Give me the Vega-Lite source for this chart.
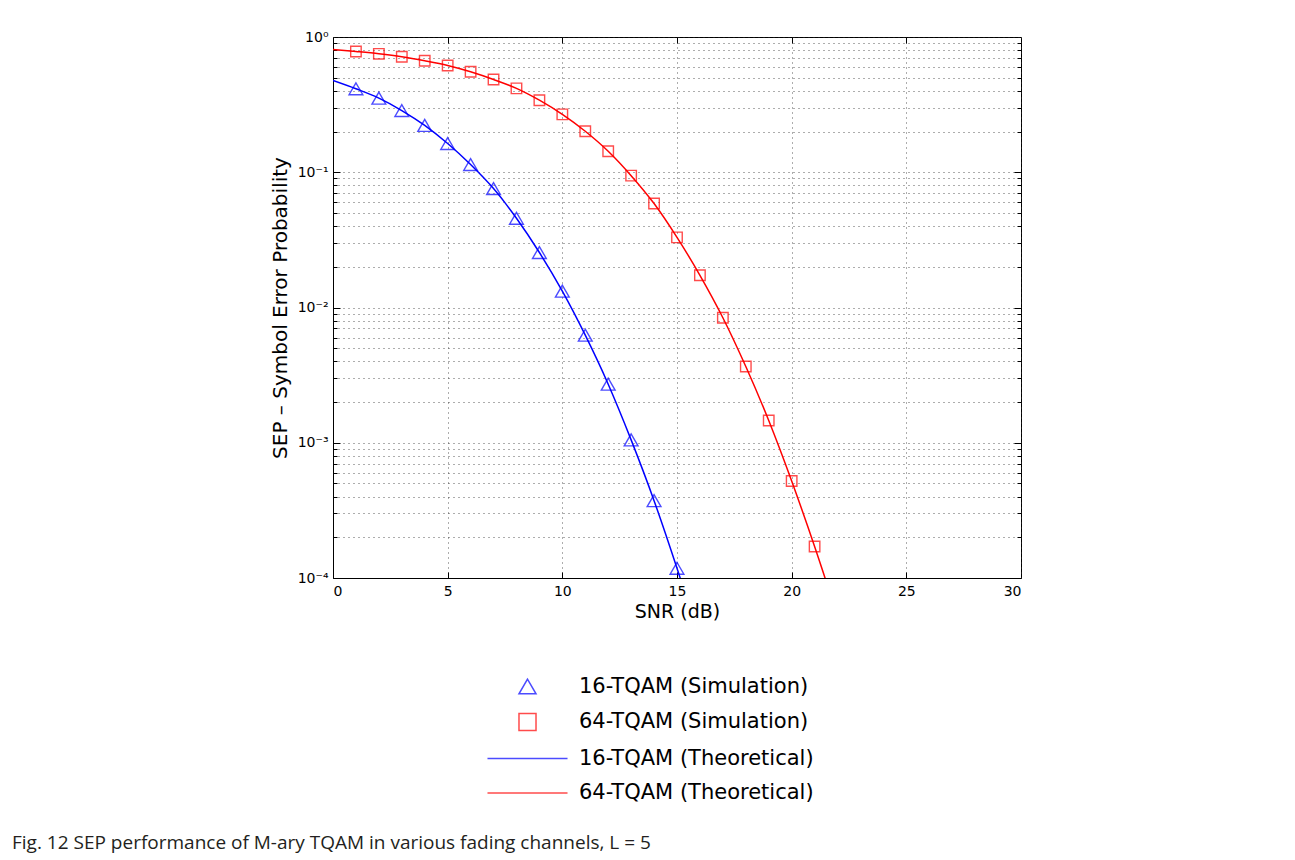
{
  "$schema": "https://vega.github.io/schema/vega-lite/v6.json",
  "width": 688,
  "height": 541,
  "autosize": "none",
  "padding": {"left": 333, "top": 37, "right": 274, "bottom": 282},
  "background": "white",
  "title": {
    "text": "Fig. 12 SEP performance of M-ary TQAM in various fading channels, L = 5",
    "orient": "bottom",
    "anchor": "start",
    "frame": "group",
    "dx": -321,
    "dy": 27,
    "font": "Open Sans",
    "fontSize": 19,
    "fontWeight": "normal",
    "color": "#231f20"
  },
  "datasets": {
    "sim": [
      {"snr": 1, "sep": 0.414, "series": "16-TQAM (Simulation)"},
      {"snr": 2, "sep": 0.353, "series": "16-TQAM (Simulation)"},
      {"snr": 3, "sep": 0.286, "series": "16-TQAM (Simulation)"},
      {"snr": 4, "sep": 0.222, "series": "16-TQAM (Simulation)"},
      {"snr": 5, "sep": 0.163, "series": "16-TQAM (Simulation)"},
      {"snr": 6, "sep": 0.114, "series": "16-TQAM (Simulation)"},
      {"snr": 7, "sep": 0.0757, "series": "16-TQAM (Simulation)"},
      {"snr": 8, "sep": 0.0457, "series": "16-TQAM (Simulation)"},
      {"snr": 9, "sep": 0.0255, "series": "16-TQAM (Simulation)"},
      {"snr": 10, "sep": 0.0132, "series": "16-TQAM (Simulation)"},
      {"snr": 11, "sep": 0.00624, "series": "16-TQAM (Simulation)"},
      {"snr": 12, "sep": 0.00271, "series": "16-TQAM (Simulation)"},
      {"snr": 13, "sep": 0.00105, "series": "16-TQAM (Simulation)"},
      {"snr": 14, "sep": 0.000373, "series": "16-TQAM (Simulation)"},
      {"snr": 15, "sep": 0.000118, "series": "16-TQAM (Simulation)"},
      {"snr": 1, "sep": 0.781, "series": "64-TQAM (Simulation)"},
      {"snr": 2, "sep": 0.751, "series": "64-TQAM (Simulation)"},
      {"snr": 3, "sep": 0.714, "series": "64-TQAM (Simulation)"},
      {"snr": 4, "sep": 0.667, "series": "64-TQAM (Simulation)"},
      {"snr": 5, "sep": 0.616, "series": "64-TQAM (Simulation)"},
      {"snr": 6, "sep": 0.553, "series": "64-TQAM (Simulation)"},
      {"snr": 7, "sep": 0.485, "series": "64-TQAM (Simulation)"},
      {"snr": 8, "sep": 0.417, "series": "64-TQAM (Simulation)"},
      {"snr": 9, "sep": 0.341, "series": "64-TQAM (Simulation)"},
      {"snr": 10, "sep": 0.268, "series": "64-TQAM (Simulation)"},
      {"snr": 11, "sep": 0.201, "series": "64-TQAM (Simulation)"},
      {"snr": 12, "sep": 0.143, "series": "64-TQAM (Simulation)"},
      {"snr": 13, "sep": 0.0944, "series": "64-TQAM (Simulation)"},
      {"snr": 14, "sep": 0.0587, "series": "64-TQAM (Simulation)"},
      {"snr": 15, "sep": 0.033, "series": "64-TQAM (Simulation)"},
      {"snr": 16, "sep": 0.0173, "series": "64-TQAM (Simulation)"},
      {"snr": 17, "sep": 0.0084, "series": "64-TQAM (Simulation)"},
      {"snr": 18, "sep": 0.00366, "series": "64-TQAM (Simulation)"},
      {"snr": 19, "sep": 0.00146, "series": "64-TQAM (Simulation)"},
      {"snr": 20, "sep": 0.000521, "series": "64-TQAM (Simulation)"},
      {"snr": 21, "sep": 0.000171, "series": "64-TQAM (Simulation)"}
    ],
    "theo": [
      {"snr": 0, "sep": 0.477, "series": "16-TQAM (Theoretical)"},
      {"snr": 1, "sep": 0.414, "series": "16-TQAM (Theoretical)"},
      {"snr": 2, "sep": 0.353, "series": "16-TQAM (Theoretical)"},
      {"snr": 3, "sep": 0.286, "series": "16-TQAM (Theoretical)"},
      {"snr": 4, "sep": 0.222, "series": "16-TQAM (Theoretical)"},
      {"snr": 5, "sep": 0.163, "series": "16-TQAM (Theoretical)"},
      {"snr": 6, "sep": 0.114, "series": "16-TQAM (Theoretical)"},
      {"snr": 7, "sep": 0.0757, "series": "16-TQAM (Theoretical)"},
      {"snr": 8, "sep": 0.0457, "series": "16-TQAM (Theoretical)"},
      {"snr": 9, "sep": 0.0255, "series": "16-TQAM (Theoretical)"},
      {"snr": 10, "sep": 0.0132, "series": "16-TQAM (Theoretical)"},
      {"snr": 11, "sep": 0.00624, "series": "16-TQAM (Theoretical)"},
      {"snr": 12, "sep": 0.00271, "series": "16-TQAM (Theoretical)"},
      {"snr": 13, "sep": 0.00105, "series": "16-TQAM (Theoretical)"},
      {"snr": 14, "sep": 0.000373, "series": "16-TQAM (Theoretical)"},
      {"snr": 15, "sep": 0.000118, "series": "16-TQAM (Theoretical)"},
      {"snr": 16, "sep": 0.0000345, "series": "16-TQAM (Theoretical)"},
      {"snr": 0, "sep": 0.809, "series": "64-TQAM (Theoretical)"},
      {"snr": 1, "sep": 0.781, "series": "64-TQAM (Theoretical)"},
      {"snr": 2, "sep": 0.751, "series": "64-TQAM (Theoretical)"},
      {"snr": 3, "sep": 0.714, "series": "64-TQAM (Theoretical)"},
      {"snr": 4, "sep": 0.667, "series": "64-TQAM (Theoretical)"},
      {"snr": 5, "sep": 0.616, "series": "64-TQAM (Theoretical)"},
      {"snr": 6, "sep": 0.553, "series": "64-TQAM (Theoretical)"},
      {"snr": 7, "sep": 0.485, "series": "64-TQAM (Theoretical)"},
      {"snr": 8, "sep": 0.417, "series": "64-TQAM (Theoretical)"},
      {"snr": 9, "sep": 0.341, "series": "64-TQAM (Theoretical)"},
      {"snr": 10, "sep": 0.268, "series": "64-TQAM (Theoretical)"},
      {"snr": 11, "sep": 0.201, "series": "64-TQAM (Theoretical)"},
      {"snr": 12, "sep": 0.143, "series": "64-TQAM (Theoretical)"},
      {"snr": 13, "sep": 0.0944, "series": "64-TQAM (Theoretical)"},
      {"snr": 14, "sep": 0.0587, "series": "64-TQAM (Theoretical)"},
      {"snr": 15, "sep": 0.033, "series": "64-TQAM (Theoretical)"},
      {"snr": 16, "sep": 0.0173, "series": "64-TQAM (Theoretical)"},
      {"snr": 17, "sep": 0.0084, "series": "64-TQAM (Theoretical)"},
      {"snr": 18, "sep": 0.00366, "series": "64-TQAM (Theoretical)"},
      {"snr": 19, "sep": 0.00146, "series": "64-TQAM (Theoretical)"},
      {"snr": 20, "sep": 0.000521, "series": "64-TQAM (Theoretical)"},
      {"snr": 21, "sep": 0.000171, "series": "64-TQAM (Theoretical)"},
      {"snr": 22, "sep": 0.000052, "series": "64-TQAM (Theoretical)"}
    ]
  },
  "layer": [
    {
      "data": {"name": "theo"},
      "mark": {"type": "line", "clip": true, "interpolate": "monotone", "strokeWidth": 1.5},
      "encoding": {
        "x": {
          "field": "snr", "type": "quantitative",
          "scale": {"domain": [0, 30], "nice": false, "zero": false},
          "axis": {
            "orient": "bottom", "title": "SNR (dB)", "values": [0, 5, 10, 15, 20, 25, 30],
            "grid": true, "ticks": false, "labelPadding": 6, "titlePadding": 4
          }
        },
        "y": {
          "field": "sep", "type": "quantitative",
          "scale": {"type": "log", "domain": [0.0001, 1], "nice": false},
          "axis": {
            "orient": "left", "title": "SEP \u2013 Symbol Error Probability",
            "values": [0.0001, 0.0002, 0.0003, 0.0004, 0.0005, 0.0006, 0.0007, 0.0008, 0.0009, 0.001, 0.002, 0.003, 0.004, 0.005, 0.006, 0.007, 0.008, 0.009, 0.01, 0.02, 0.03, 0.04, 0.05, 0.06, 0.07, 0.08, 0.09, 0.1, 0.2, 0.3, 0.4, 0.5, 0.6, 0.7, 0.8, 0.9, 1],
            "labelExpr": "datum.value == 1 ? '10\u2070' : datum.value == 0.1 ? '10\u207b\u00b9' : datum.value == 0.01 ? '10\u207b\u00b2' : datum.value == 0.001 ? '10\u207b\u00b3' : datum.value == 0.0001 ? '10\u207b\u2074' : ''",
            "grid": true, "ticks": false,
            "labelPadding": 5, "titlePadding": 7, "titleFontSize": 20, "labelOverlap": false
          }
        },
        "color": {
          "field": "series", "type": "nominal",
          "scale": {
            "domain": ["16-TQAM (Simulation)", "64-TQAM (Simulation)", "16-TQAM (Theoretical)", "64-TQAM (Theoretical)"],
            "range": ["#0000ff", "#ff0000", "#0000ff", "#ff0000"]
          },
          "legend": {
            "title": null,
            "orient": "none",
            "legendX": 184,
            "legendY": 639,
            "direction": "vertical",
            "labelOffset": 41,
            "symbolSize": 290
          }
        }
      }
    },
    {
      "data": {"name": "sim"},
      "mark": {"type": "point", "filled": false, "strokeWidth": 1.4},
      "encoding": {
        "x": {
          "field": "snr", "type": "quantitative",
          "axis": {"orient": "bottom", "offset": -6, "tickSize": 6, "domain": false, "labels": false, "grid": false, "title": null, "values": [5, 10, 15, 20, 25]}
        },
        "y": {
          "field": "sep", "type": "quantitative",
          "axis": {"orient": "left", "offset": -7, "tickSize": 7, "domain": false, "labels": false, "grid": false, "title": null, "values": [0.001, 0.01, 0.1]}
        },
        "color": {"field": "series", "type": "nominal"},
        "shape": {
          "field": "series", "type": "nominal",
          "scale": {
            "domain": ["16-TQAM (Simulation)", "64-TQAM (Simulation)", "16-TQAM (Theoretical)", "64-TQAM (Theoretical)"],
            "range": ["triangle-up", "square", "M-4.7,0H4.7", "M-4.7,0H4.7"]
          }
        },
        "size": {
          "field": "series", "type": "ordinal",
          "scale": {"domain": ["16-TQAM (Simulation)", "64-TQAM (Simulation)"], "range": [190, 110]},
          "legend": null
        }
      }
    },
    {
      "data": {"name": "sim"},
      "mark": {"type": "point", "opacity": 0},
      "encoding": {
        "x": {
          "field": "snr", "type": "quantitative",
          "axis": {"orient": "top", "offset": -6, "tickSize": 6, "domain": false, "labels": false, "grid": false, "title": null, "values": [5, 10, 15, 20, 25]}
        },
        "y": {
          "field": "sep", "type": "quantitative",
          "axis": {"orient": "left", "offset": -4, "tickSize": 4, "domain": false, "labels": false, "grid": false, "title": null,
            "values": [0.0002, 0.0003, 0.0004, 0.0005, 0.0006, 0.0007, 0.0008, 0.0009, 0.002, 0.003, 0.004, 0.005, 0.006, 0.007, 0.008, 0.009, 0.02, 0.03, 0.04, 0.05, 0.06, 0.07, 0.08, 0.09, 0.2, 0.3, 0.4, 0.5, 0.6, 0.7, 0.8, 0.9]}
        }
      }
    },
    {
      "data": {"name": "sim"},
      "mark": {"type": "point", "opacity": 0},
      "encoding": {
        "x": {"field": "snr", "type": "quantitative", "axis": null},
        "y": {
          "field": "sep", "type": "quantitative",
          "axis": {"orient": "right", "offset": -7, "tickSize": 7, "domain": false, "labels": false, "grid": false, "title": null, "values": [0.001, 0.01, 0.1]}
        }
      }
    },
    {
      "data": {"name": "sim"},
      "mark": {"type": "point", "opacity": 0},
      "encoding": {
        "x": {"field": "snr", "type": "quantitative", "axis": null},
        "y": {
          "field": "sep", "type": "quantitative",
          "axis": {"orient": "right", "offset": -4, "tickSize": 4, "domain": false, "labels": false, "grid": false, "title": null,
            "values": [0.0002, 0.0003, 0.0004, 0.0005, 0.0006, 0.0007, 0.0008, 0.0009, 0.002, 0.003, 0.004, 0.005, 0.006, 0.007, 0.008, 0.009, 0.02, 0.03, 0.04, 0.05, 0.06, 0.07, 0.08, 0.09, 0.2, 0.3, 0.4, 0.5, 0.6, 0.7, 0.8, 0.9]}
        }
      }
    }
  ],
  "resolve": {"axis": {"x": "independent", "y": "independent"}},
  "config": {
    "font": "DejaVu Sans",
    "view": {"stroke": "#000000", "strokeWidth": 1},
    "axis": {
      "domainColor": "#000000",
      "domainWidth": 1,
      "tickColor": "#000000",
      "tickWidth": 1,
      "labelColor": "#000000",
      "labelFont": "DejaVu Sans",
      "labelFontSize": 14,
      "titleFont": "DejaVu Sans",
      "titleFontSize": 19,
      "titleFontWeight": "normal",
      "titleColor": "#000000",
      "gridColor": "#333333",
      "gridDash": [1, 4],
      "gridWidth": 1,
      "gridOpacity": 0.8
    },
    "legend": {
      "labelFont": "DejaVu Sans",
      "labelFontSize": 21,
      "labelColor": "#000000",
      "labelLimit": 400,
      "rowPadding": 12.5,
      "symbolStrokeWidth": 1.5
    }
  }
}
